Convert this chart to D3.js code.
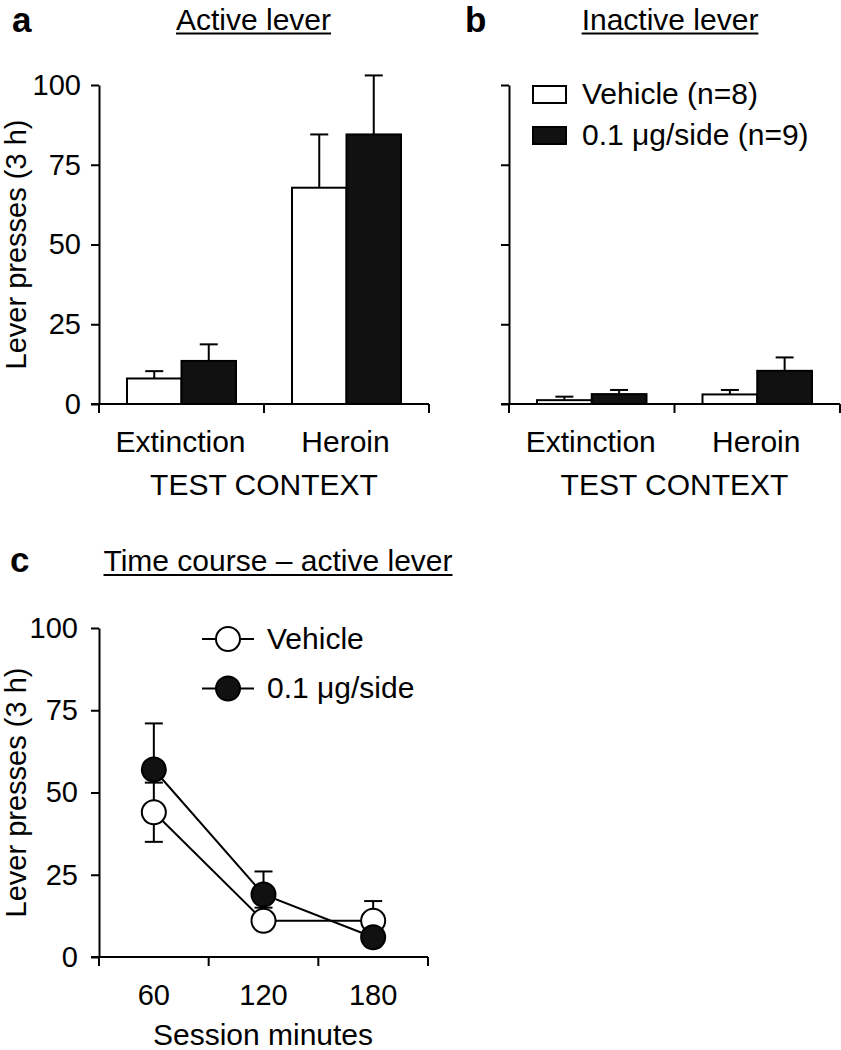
<!DOCTYPE html>
<html>
<head>
<meta charset="utf-8">
<script src="https://cdn.jsdelivr.net/npm/d3@7"></script>
<style>
  html, body { margin: 0; padding: 0; background: #fff; }
  svg { display: block; }
  text { font-family: "Liberation Sans", Arial, Helvetica, sans-serif; fill: #000; }
</style>
</head>
<body>
<svg id="chart" width="841" height="1050"></svg>
<script>
// ---------- data ----------
const categories = ["Extinction", "Heroin"];
const groups = ["Vehicle (n=8)", "0.1 \u03bcg/side (n=9)"];
const yTicks = [0, 25, 50, 75, 100];

const activeVehicle = [8.0, 67.8];
const activeVehicleSem = [2.3, 16.7];
const activeDrug = [13.5, 84.5];
const activeDrugSem = [5.2, 18.5];

const inactiveVehicle = [1.2, 3.0];
const inactiveVehicleSem = [1.1, 1.4];
const inactiveDrug = [3.1, 10.4];
const inactiveDrugSem = [1.3, 4.2];

const minutes = [60, 120, 180];
const minuteTickMarks = [30, 90, 150, 210];
const courseLegend = ["Vehicle", "0.1 \u03bcg/side"];
const courseVehicle = [44, 11, 11];
const courseVehicleSemUp = [9, 4, 6];
const courseVehicleSemDown = [9, 0, 0];
const courseDrug = [57, 19, 6];
const courseDrugSemUp = [14, 7, 0];

// ---------- setup ----------
const svg = d3.select("#chart");
const LW = 2;
const FS = 30, TFS = 29;

function barPanel(opt) {
  const g = svg.append("g");
  const x0 = d3.scaleBand().domain(categories).range([opt.left, opt.right]);
  const x1 = d3.scaleBand().domain(groups).range([28, x0.bandwidth() - 28]);
  const y = d3.scaleLinear().domain([0, 100]).range([opt.bottom, opt.top]);

  // y axis
  const ya = d3.axisLeft(y).tickValues(yTicks).tickSize(8).tickSizeOuter(0).tickPadding(10);
  if (!opt.labels) ya.tickFormat("");
  const yg = g.append("g").attr("transform", `translate(${opt.left},0)`).call(ya);
  yg.selectAll("path, line").attr("stroke", "#000").attr("stroke-width", LW);
  yg.selectAll("text").attr("font-size", TFS).style("font-family", '"Liberation Sans", Arial, sans-serif');

  // x axis (line + band boundary ticks)
  const bounds = [opt.left, ...categories.map(c => x0(c) + x0.bandwidth())];
  g.append("line").attr("x1", opt.left - 8).attr("x2", opt.right)
    .attr("y1", opt.bottom).attr("y2", opt.bottom).attr("stroke", "#000").attr("stroke-width", LW);
  g.selectAll(".bt").data(bounds).join("line")
    .attr("x1", d => d).attr("x2", d => d)
    .attr("y1", opt.bottom).attr("y2", opt.bottom + 9)
    .attr("stroke", "#000").attr("stroke-width", LW);

  // bars
  const series = [
    { name: groups[0], vals: opt.veh, sem: opt.vehSem, fill: "#fff" },
    { name: groups[1], vals: opt.drug, sem: opt.drugSem, fill: "#111" }
  ];
  series.forEach(s => {
    categories.forEach((c, i) => {
      const bx = x0(c) + x1(s.name);
      const bw = x1.bandwidth();
      const cx = bx + bw / 2;
      g.append("line").attr("x1", cx).attr("x2", cx)
        .attr("y1", y(s.vals[i])).attr("y2", y(s.vals[i] + s.sem[i]))
        .attr("stroke", "#000").attr("stroke-width", LW);
      g.append("line").attr("x1", cx - 9).attr("x2", cx + 9)
        .attr("y1", y(s.vals[i] + s.sem[i])).attr("y2", y(s.vals[i] + s.sem[i]))
        .attr("stroke", "#000").attr("stroke-width", LW);
      g.append("rect").attr("x", bx).attr("width", bw)
        .attr("y", y(s.vals[i])).attr("height", opt.bottom - y(s.vals[i]))
        .attr("fill", s.fill).attr("stroke", "#000").attr("stroke-width", LW);
    });
  });

  // category labels
  g.selectAll(".cl").data(categories).join("text")
    .attr("x", d => x0(d) + x0.bandwidth() / 2 - 1).attr("y", opt.bottom + 48)
    .attr("text-anchor", "middle").attr("font-size", FS).text(d => d);
  g.append("text").attr("x", (opt.left + opt.right) / 2).attr("y", opt.bottom + 91)
    .attr("text-anchor", "middle").attr("font-size", FS).text("TEST CONTEXT");

  // title
  const t = g.append("text").attr("x", opt.titleX).attr("y", 30)
    .attr("text-anchor", "middle").attr("font-size", FS).text(opt.title);
  const tw = t.node().getComputedTextLength();
  g.append("line").attr("x1", opt.titleX - tw / 2).attr("x2", opt.titleX + tw / 2)
    .attr("y1", 33.5).attr("y2", 33.5).attr("stroke", "#000").attr("stroke-width", 2);
  g.append("text").attr("x", opt.letterX).attr("y", 32).attr("font-size", 35)
    .attr("font-weight", "bold").text(opt.letter);
  return { x0, x1, y };
}

barPanel({ left: 99, right: 429, top: 85, bottom: 404, labels: true,
  veh: activeVehicle, vehSem: activeVehicleSem, drug: activeDrug, drugSem: activeDrugSem,
  title: "Active lever", titleX: 253.5, letter: "a", letterX: 12 });

barPanel({ left: 509, right: 840, top: 85, bottom: 404, labels: false,
  veh: inactiveVehicle, vehSem: inactiveVehicleSem, drug: inactiveDrug, drugSem: inactiveDrugSem,
  title: "Inactive lever", titleX: 670, letter: "b", letterX: 465 });

// y label panel a
svg.append("text").attr("transform", "translate(26,244.5) rotate(-90)")
  .attr("text-anchor", "middle").attr("font-size", 29).text("Lever presses (3 h)");

// legend panel b
const lg = svg.append("g");
groups.forEach((gname, i) => {
  lg.append("rect").attr("x", 533).attr("y", 86 + i * 41).attr("width", 33).attr("height", 17)
    .attr("fill", i === 0 ? "#fff" : "#111").attr("stroke", "#000").attr("stroke-width", LW);
  lg.append("text").attr("x", 582).attr("y", 104 + i * 41).attr("font-size", FS).text(gname);
});

// ---------- panel c ----------
const gc = svg.append("g");
const cl = 99, cr = 428, ct = 628, cb = 957;
const xc = d3.scaleLinear().domain([30, 210]).range([cl, cr]);
const yc = d3.scaleLinear().domain([0, 100]).range([cb, ct]);

const yca = d3.axisLeft(yc).tickValues(yTicks).tickSize(8).tickSizeOuter(0).tickPadding(13);
const ycg = gc.append("g").attr("transform", `translate(${cl},0)`).call(yca);
ycg.selectAll("path, line").attr("stroke", "#000").attr("stroke-width", LW);
ycg.selectAll("text").attr("font-size", TFS).style("font-family", '"Liberation Sans", Arial, sans-serif');

gc.append("line").attr("x1", cl - 8).attr("x2", cr).attr("y1", cb).attr("y2", cb)
  .attr("stroke", "#000").attr("stroke-width", LW);
gc.selectAll(".mt").data(minuteTickMarks).join("line")
  .attr("x1", d => xc(d)).attr("x2", d => xc(d)).attr("y1", cb).attr("y2", cb + 9)
  .attr("stroke", "#000").attr("stroke-width", LW);
gc.selectAll(".ml").data(minutes).join("text")
  .attr("x", d => xc(d)).attr("y", 1005).attr("text-anchor", "middle")
  .attr("font-size", TFS).text(d => d);
gc.append("text").attr("x", 263).attr("y", 1045).attr("text-anchor", "middle")
  .attr("font-size", FS).text("Session minutes");
svg.append("text").attr("transform", "translate(26,792.5) rotate(-90)")
  .attr("text-anchor", "middle").attr("font-size", 29).text("Lever presses (3 h)");

// title c
const tc = gc.append("text").attr("x", 278).attr("y", 571).attr("text-anchor", "middle")
  .attr("font-size", FS).text("Time course \u2013 active lever");
const tcw = tc.node().getComputedTextLength();
gc.append("line").attr("x1", 278 - tcw / 2).attr("x2", 278 + tcw / 2).attr("y1", 575).attr("y2", 575)
  .attr("stroke", "#000").attr("stroke-width", 2);
gc.append("text").attr("x", 10).attr("y", 572).attr("font-size", 35).attr("font-weight", "bold").text("c");

const line = d3.line().x((d, i) => xc(minutes[i])).y(d => yc(d));
function errBars(vals, up, down) {
  vals.forEach((v, i) => {
    const cx = xc(minutes[i]);
    [[up[i], 1], [down ? down[i] : 0, -1]].forEach(([e, s]) => {
      if (!e) return;
      const ye = yc(v + s * e);
      gc.append("line").attr("x1", cx).attr("x2", cx).attr("y1", yc(v)).attr("y2", ye)
        .attr("stroke", "#000").attr("stroke-width", LW);
      gc.append("line").attr("x1", cx - 9).attr("x2", cx + 9).attr("y1", ye).attr("y2", ye)
        .attr("stroke", "#000").attr("stroke-width", LW);
    });
  });
}
errBars(courseVehicle, courseVehicleSemUp, courseVehicleSemDown);
errBars(courseDrug, courseDrugSemUp, null);
gc.append("path").attr("d", line(courseVehicle)).attr("fill", "none").attr("stroke", "#000").attr("stroke-width", LW);
gc.append("path").attr("d", line(courseDrug)).attr("fill", "none").attr("stroke", "#000").attr("stroke-width", LW);
gc.selectAll(".cv").data(courseVehicle).join("circle")
  .attr("cx", (d, i) => xc(minutes[i])).attr("cy", d => yc(d)).attr("r", 12)
  .attr("fill", "#fff").attr("stroke", "#000").attr("stroke-width", LW);
gc.selectAll(".cd").data(courseDrug).join("circle")
  .attr("cx", (d, i) => xc(minutes[i])).attr("cy", d => yc(d)).attr("r", 12)
  .attr("fill", "#111").attr("stroke", "#000").attr("stroke-width", LW);

// legend c
courseLegend.forEach((name, i) => {
  const cy = 639 + i * 49.5;
  gc.append("line").attr("x1", 202).attr("x2", 254).attr("y1", cy).attr("y2", cy)
    .attr("stroke", "#000").attr("stroke-width", LW);
  gc.append("circle").attr("cx", 228).attr("cy", cy).attr("r", 12)
    .attr("fill", i === 0 ? "#fff" : "#111").attr("stroke", "#000").attr("stroke-width", LW);
  gc.append("text").attr("x", 267).attr("y", cy + 9.5).attr("font-size", FS).text(name);
});
</script>
</body>
</html>
